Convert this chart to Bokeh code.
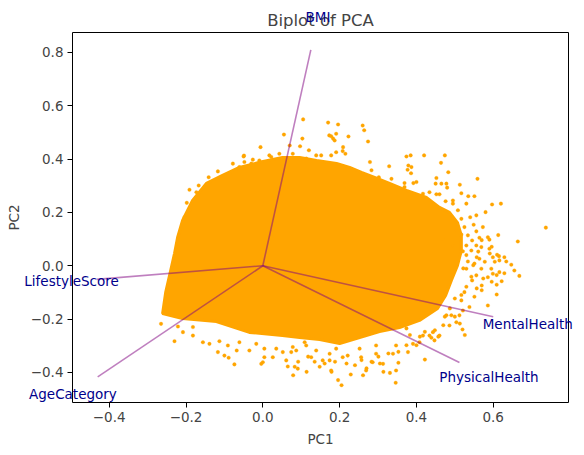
from bokeh.plotting import figure
from bokeh.models import Range1d, FixedTicker, CustomJSTickFormatter
from bokeh.core.properties import value
from bokeh.embed import file_html
from bokeh.resources import INLINE

# --- data ---
# PCA loadings (arrow end points)
features = ["BMI", "LifestyleScore", "AgeCategory", "MentalHealth", "PhysicalHealth"]
load_x = [0.125, -0.433, -0.430, 0.600, 0.512]
load_y = [0.810, -0.051, -0.417, -0.191, -0.363]

# outline of the dense core of the score cloud (PC1, PC2)
core_x = [-0.261, -0.253, -0.240, -0.230, -0.222, -0.209, -0.183, -0.147, -0.105, -0.061,
          -0.009, 0.051, 0.096, 0.140, 0.192, 0.226, 0.257, 0.291, 0.330, 0.374,
          0.426, 0.460, 0.486, 0.507, 0.517, 0.517, 0.507, 0.491, 0.476, 0.455,
          0.408, 0.356, 0.304, 0.252, 0.200, 0.148, 0.096, 0.051, -0.035, -0.121,
          -0.209]
core_y = [-0.179, -0.100, -0.018, 0.046, 0.106, 0.170, 0.245, 0.309, 0.339, 0.369,
          0.388, 0.406, 0.406, 0.395, 0.384, 0.369, 0.350, 0.331, 0.309, 0.283,
          0.256, 0.219, 0.200, 0.162, 0.114, 0.057, 0.001, -0.055, -0.111, -0.160,
          -0.205, -0.232, -0.247, -0.269, -0.292, -0.277, -0.269, -0.262, -0.250, -0.209,
          -0.198]

# scattered scores around the core (PC1, PC2)
fringe_x = [
    0.055, -0.006, -0.049, -0.117, -0.141, -0.167, -0.191, -0.198, -0.204, -0.078,
    -0.026, 0.022, 0.103, 0.097, 0.120, 0.178, 0.191, 0.223, 0.208, 0.215,
    0.178, 0.152, -0.050, -0.048, -0.087, -0.173, -0.191, -0.208, -0.217, -0.221,
    0.017, -0.030, -0.061, 0.078, 0.113,
    0.105, 0.170, 0.196, 0.260, 0.264, 0.173, 0.183, 0.274, 0.209, 0.374,
    0.385, 0.420, 0.474, 0.464, 0.329, 0.379, 0.387, 0.377, 0.483, 0.452,
    0.559, 0.400, 0.392, 0.450, 0.478, 0.513, 0.335, 0.302, 0.279, 0.283,
    0.517, 0.535, 0.551, 0.597, 0.620, 0.580, 0.737, 0.664, 0.615, 0.634,
    0.647, 0.586, 0.573, 0.556, 0.495, 0.508, 0.476, 0.460, 0.434, 0.480,
    0.668, 0.622, 0.609, 0.570, 0.551, 0.520, 0.526, 0.422, 0.346, 0.205,
    0.196, 0.229, 0.179, 0.114, 0.079, 0.148, 0.261, 0.314, 0.331, 0.353,
    0.305, 0.270, 0.457, 0.439, 0.409, 0.383, 0.374, 0.591, 0.604, 0.609,
    0.578, 0.613, 0.596, 0.570, 0.561, 0.548, 0.543, 0.574, 0.596, 0.557,
    0.530, 0.517, 0.500, 0.487, 0.474, 0.500, 0.513, 0.470, 0.448, 0.422,
    0.400, 0.374, 0.353, 0.327, 0.301, 0.283, 0.257, 0.240, 0.218, 0.188,
    0.161, 0.135, 0.118, 0.092, 0.083,
    -0.265, -0.230, -0.208, -0.182, -0.156, -0.139, -0.117, -0.100, -0.089, -0.074,
    -0.113, -0.091, -0.068, -0.035, 0.004, 0.026, -0.004, 0.061, 0.091, 0.065,
    0.126, 0.156, -0.182, -0.221, -0.017, 0.035, 0.087, 0.109, 0.139, 0.174,
    0.208, -0.061,
    0.386, 0.465, 0.369, 0.369, 0.417, 0.452, 0.495, 0.530, 0.517, 0.540,
    0.549, 0.525, 0.504, 0.556, 0.517, 0.534, 0.564, 0.590, 0.545, 0.512,
    0.469, 0.495, 0.530, 0.556, 0.590,
    0.521, 0.543, 0.569, 0.610, 0.629, 0.655, 0.616, 0.599, 0.557, 0.534,
    0.551, 0.569, 0.595, 0.564, 0.530, 0.556, 0.586, 0.599, 0.616, 0.629,
    0.545, 0.609, 0.570, 0.525, 0.517, 0.586, 0.538, 0.521, 0.512, 0.491,
    0.504, 0.478, 0.486, 0.460, 0.443, 0.434, 0.417, 0.447, 0.408, 0.530,
    0.522,
    0.070, 0.043, 0.139, 0.187, 0.191, -0.009,
    0.000, 0.052, 0.074, 0.174, 0.178, 0.221, 0.256, 0.269, 0.286, 0.295,
    0.313, 0.339, 0.347, 0.378, 0.391, 0.347, 0.295, 0.252, 0.191, 0.113,
    0.078, 0.004,
]
fringe_y = [
    0.492, 0.445, 0.413, 0.354, 0.332, 0.301, 0.285, 0.236, 0.182, 0.383,
    0.398, 0.408, 0.477, 0.448, 0.433, 0.486, 0.495, 0.485, 0.430, 0.420,
    0.414, 0.414, 0.410, 0.389, 0.347, 0.276, 0.208, 0.145, 0.114, 0.070,
    0.414, 0.383, 0.370, 0.420, 0.402,
    0.549, 0.537, 0.530, 0.526, 0.508, 0.489, 0.477, 0.466, 0.445, 0.410,
    0.414, 0.414, 0.414, 0.386, 0.373, 0.376, 0.370, 0.360, 0.351, 0.329,
    0.326, 0.314, 0.310, 0.308, 0.308, 0.304, 0.326, 0.332, 0.389, 0.358,
    0.272, 0.261, 0.261, 0.230, 0.233, 0.201, 0.143, 0.091, 0.036, 0.016,
    0.004, 0.107, 0.145, 0.189, 0.245, 0.208, 0.242, 0.268, 0.276, 0.293,
    -0.038, -0.058, -0.108, -0.092, -0.116, -0.239, -0.260, -0.352, -0.439, -0.448,
    -0.429, -0.408, -0.398, -0.398, -0.411, -0.379, -0.411, -0.398, -0.402, -0.364,
    -0.367, -0.385, -0.266, -0.270, -0.266, -0.260, -0.235, 0.046, 0.015, -0.035,
    0.015, 0.115, 0.071, 0.096, 0.053, 0.002, -0.041, -0.048, -0.060, -0.085,
    -0.079, -0.110, -0.123, -0.160, -0.191, -0.191, -0.217, -0.223, -0.242, -0.248,
    -0.298, -0.298, -0.323, -0.329, -0.341, -0.360, -0.354, -0.373, -0.367, -0.360,
    -0.367, -0.360, -0.341, -0.360, -0.379,
    -0.218, -0.283, -0.249, -0.262, -0.287, -0.293, -0.324, -0.337, -0.345, -0.370,
    -0.283, -0.299, -0.318, -0.318, -0.343, -0.343, -0.368, -0.355, -0.386, -0.378,
    -0.343, -0.355, -0.230, -0.228, -0.293, -0.311, -0.318, -0.287, -0.318, -0.330,
    -0.343, -0.287,
    0.347, 0.308, 0.310, 0.295, 0.270, 0.268, 0.233, 0.233, 0.176, 0.182,
    0.154, 0.145, 0.132, 0.129, 0.117, 0.114, 0.105, 0.098, 0.095, 0.101,
    0.101, 0.076, 0.076, 0.076, 0.064,
    0.054, 0.057, 0.070, 0.041, 0.032, -0.018, 0.020, 0.032, 0.032, 0.016,
    0.008, -0.011, -0.011, 0.026, -0.011, -0.036, -0.043, -0.030, -0.024, -0.028,
    -0.055, -0.071, -0.074, -0.099, -0.130, -0.149, -0.155, -0.168, -0.186, -0.186,
    -0.212, -0.186, -0.224, -0.262, -0.249, -0.262, -0.262, -0.280, -0.287, 0.040,
    -0.010,
    0.451, 0.420, 0.414, 0.470, 0.426, 0.395,
    -0.362, -0.324, -0.324, -0.355, -0.393, -0.337, -0.343, -0.393, -0.362, -0.330,
    -0.368, -0.330, -0.393, -0.324, -0.293, -0.299, -0.299, -0.311, -0.311, -0.299,
    -0.305, -0.311,
]

x_ticks = [-0.4, -0.2, 0.0, 0.2, 0.4, 0.6]
y_ticks = [-0.4, -0.2, 0.0, 0.2, 0.4, 0.6, 0.8]

FONT = "DejaVu Sans"
ORANGE = "#ffa500"

p = figure(
    frame_width=496, frame_height=370,
    min_border_left=72, min_border_right=8, min_border_top=32, min_border_bottom=37,
    x_range=Range1d(-0.4956, 0.796), y_range=Range1d(-0.513, 0.875),
    output_backend="svg", toolbar_location=None,
    title="Biplot of PCA",
)
p.background_fill_color = "white"
p.border_fill_color = "white"
p.outline_line_color = "black"
p.outline_line_width = 1
p.outline_line_alpha = 1
p.xgrid.visible = False
p.ygrid.visible = False

p.title.align = "center"
p.title.text_font = FONT
p.title.text_font_size = "16.5px"
p.title.text_font_style = "normal"
p.title.standoff = 6
p.title.offset = 0

fmt = CustomJSTickFormatter(code="return (tick < -1e-9 ? '\u2212' : '') + Math.abs(tick).toFixed(1);")
for ax, ticks, lab in ((p.xaxis[0], x_ticks, "PC1"), (p.yaxis[0], y_ticks, "PC2")):
    ax.ticker = FixedTicker(ticks=ticks)
    ax.formatter = fmt
    ax.axis_label = lab
    ax.axis_label_text_font = FONT
    ax.axis_label_text_font_size = "13.5px"
    ax.axis_label_text_font_style = "normal"
    ax.major_label_text_font = FONT
    ax.major_label_text_font_size = "13.5px"
    ax.major_tick_in = 0
    ax.major_tick_out = 5
    ax.minor_tick_in = 0
    ax.minor_tick_out = 0
    ax.axis_line_color = None
    ax.major_label_standoff = 4
    ax.axis_label_standoff = 6

# score cloud: dense core + scattered points
p.patch(core_x, core_y, fill_color=ORANGE, line_color=ORANGE, line_width=3)
p.scatter(fringe_x, fringe_y, size=3.6, fill_color=ORANGE, line_color=ORANGE, line_width=0.3)

# loading arrows
p.segment(x0=[0] * len(load_x), y0=[0] * len(load_y), x1=load_x, y1=load_y,
          line_color="purple", line_alpha=0.5, line_width=1.6)

# feature labels at 1.15 x the loading, drawn at overlay level so they may leave the frame
lab_x = [v * 1.15 for v in load_x]
lab_y = [v * 1.15 for v in load_y]
p.text(x=lab_x, y=lab_y, text=features,
       text_color="#00008b", text_font=value(FONT), text_font_size="13.5px",
       text_align="center", text_baseline="middle", level="overlay")

open("out.html", "w").write(file_html(p, INLINE))
